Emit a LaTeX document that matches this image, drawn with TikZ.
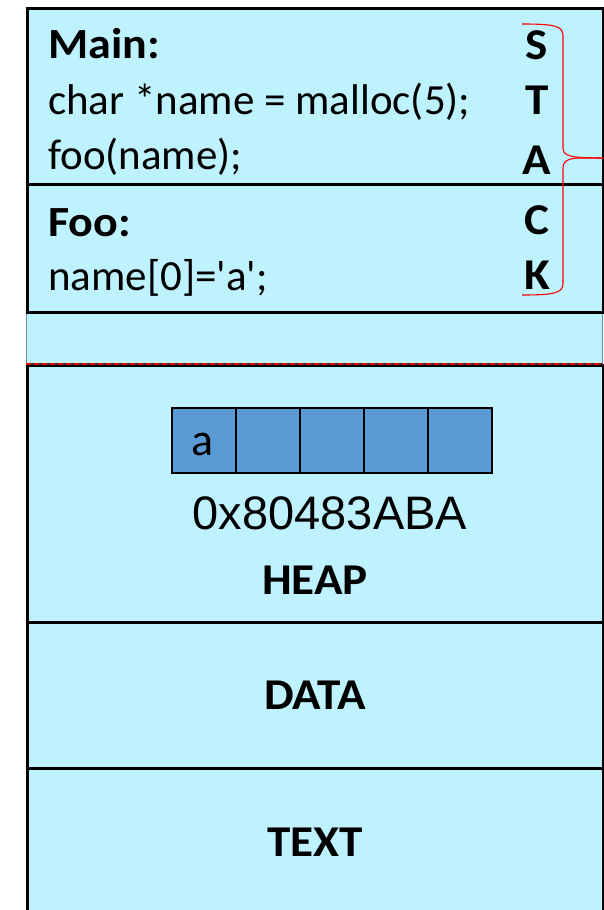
\documentclass[tikz,border=0pt]{standalone}
\usepackage{fontspec}
\setmainfont{Carlito}[Ligatures=TeXOff]
\newfontfamily\wideb[FakeStretch=1.07]{Carlito}
\newfontfamily\arialfont{Liberation Sans}
\definecolor{bgc}{HTML}{BDF2FE}
\definecolor{cellc}{HTML}{5B9BD5}
\definecolor{thinb}{HTML}{6A8FB0}
\begin{document}
\begin{tikzpicture}[x=1pt,y=-1pt,
  sec/.style={draw=black,line width=2.6pt,fill=bgc,rectangle,anchor=north west,inner sep=0pt},
  cell/.style={draw=black,line width=2pt,fill=cellc,rectangle,minimum width=64pt,minimum height=65pt,inner sep=0pt,anchor=north west},
  txt/.style={inner sep=0pt,anchor=base west,font=\fontsize{43}{50}\selectfont},
  btxt/.style={inner sep=0pt,anchor=base west,font=\wideb\fontsize{43}{50}\selectfont\bfseries},
  ctr/.style={inner sep=0pt,anchor=base,font=\wideb\fontsize{44}{50}\selectfont\bfseries},
  seglbl/.style={inner sep=0pt,anchor=base,font=\wideb\fontsize{44}{50}\selectfont\bfseries}]
\useasboundingbox (0,0) rectangle (603,910);
\fill[white] (0,0) rectangle (603,910);
% gap region
\node[rectangle,draw=thinb,line width=1pt,fill=bgc,anchor=north west,minimum width=576pt,minimum height=53pt,inner sep=0pt] (gap) at (26,311) {};
% sections
\node[sec,minimum width=576pt,minimum height=176pt] (main) at (26,7) {};
\node[sec,minimum width=576pt,minimum height=128pt] (foo) at (26,183) {};
\node[sec,minimum width=576pt,minimum height=257pt] (heap) at (26,364) {};
\node[sec,minimum width=576pt,minimum height=147pt] (data) at (26,621) {};
\node[sec,minimum width=576pt,minimum height=160pt] (textseg) at (26,767) {};
% dashed border between gap and heap
\coordinate (dl) at (26,364);
\coordinate (dr) at (603,364);
\draw[line width=1.6pt,black!80] (dl) -- (dr);
\draw[line width=1.6pt,red,dash pattern=on 5pt off 3pt] (dl) -- (dr);
% stack texts
\node[btxt] (mainlbl) at (48,58) {Main:};
\node[txt] (l1) at (48,114) {char *name = malloc(5);};
\node[txt] (l2) at (48,169) {foo(name);};
\node[btxt] (foolbl) at (48,236) {Foo:};
\node[txt] (l3) at (48,290) {name[0]='a';};
\node[ctr] (s) at (537,59) {S};
\node[ctr] (t) at (537,114) {T};
\node[ctr] (a) at (537,174) {A};
\node[ctr] (c) at (537,234) {C};
\node[ctr] (k) at (537,289) {K};
% brace
\coordinate (bt) at (522,24);
\coordinate (bb) at (522,295);
\coordinate (tip) at (603,158);
\draw[red,line width=1.1pt] (bt) .. controls (555,24) and (563,26) .. (563,36) -- (563,148) .. controls (563,156) and (570,158) .. (tip);
\draw[red,line width=1.1pt] (tip) -- (582,158) .. controls (570,158) and (563,160) .. (563,168) -- (563,283) .. controls (563,293) and (555,295) .. (bb);
% heap cells
\node[cell] (c1) at (171,407) {};
\node[cell] (c2) at (235,407) {};
\node[cell] (c3) at (299,407) {};
\node[cell] (c4) at (363,407) {};
\node[cell] (c5) at (427,407) {};
\node[inner sep=0pt,anchor=base,font=\fontsize{46}{50}\selectfont] (av) at (203,455) {a};
\node[inner sep=0pt,anchor=base,font=\arialfont\fontsize{47}{50}\selectfont] (addr) at (330,529) {0x80483ABA};
\node[seglbl] (heaplbl) at (315,594) {HEAP};
\node[seglbl] (datalbl) at (315,709) {DATA};
\node[seglbl] (textlbl) at (315,856) {TEXT};
\end{tikzpicture}
\end{document}
